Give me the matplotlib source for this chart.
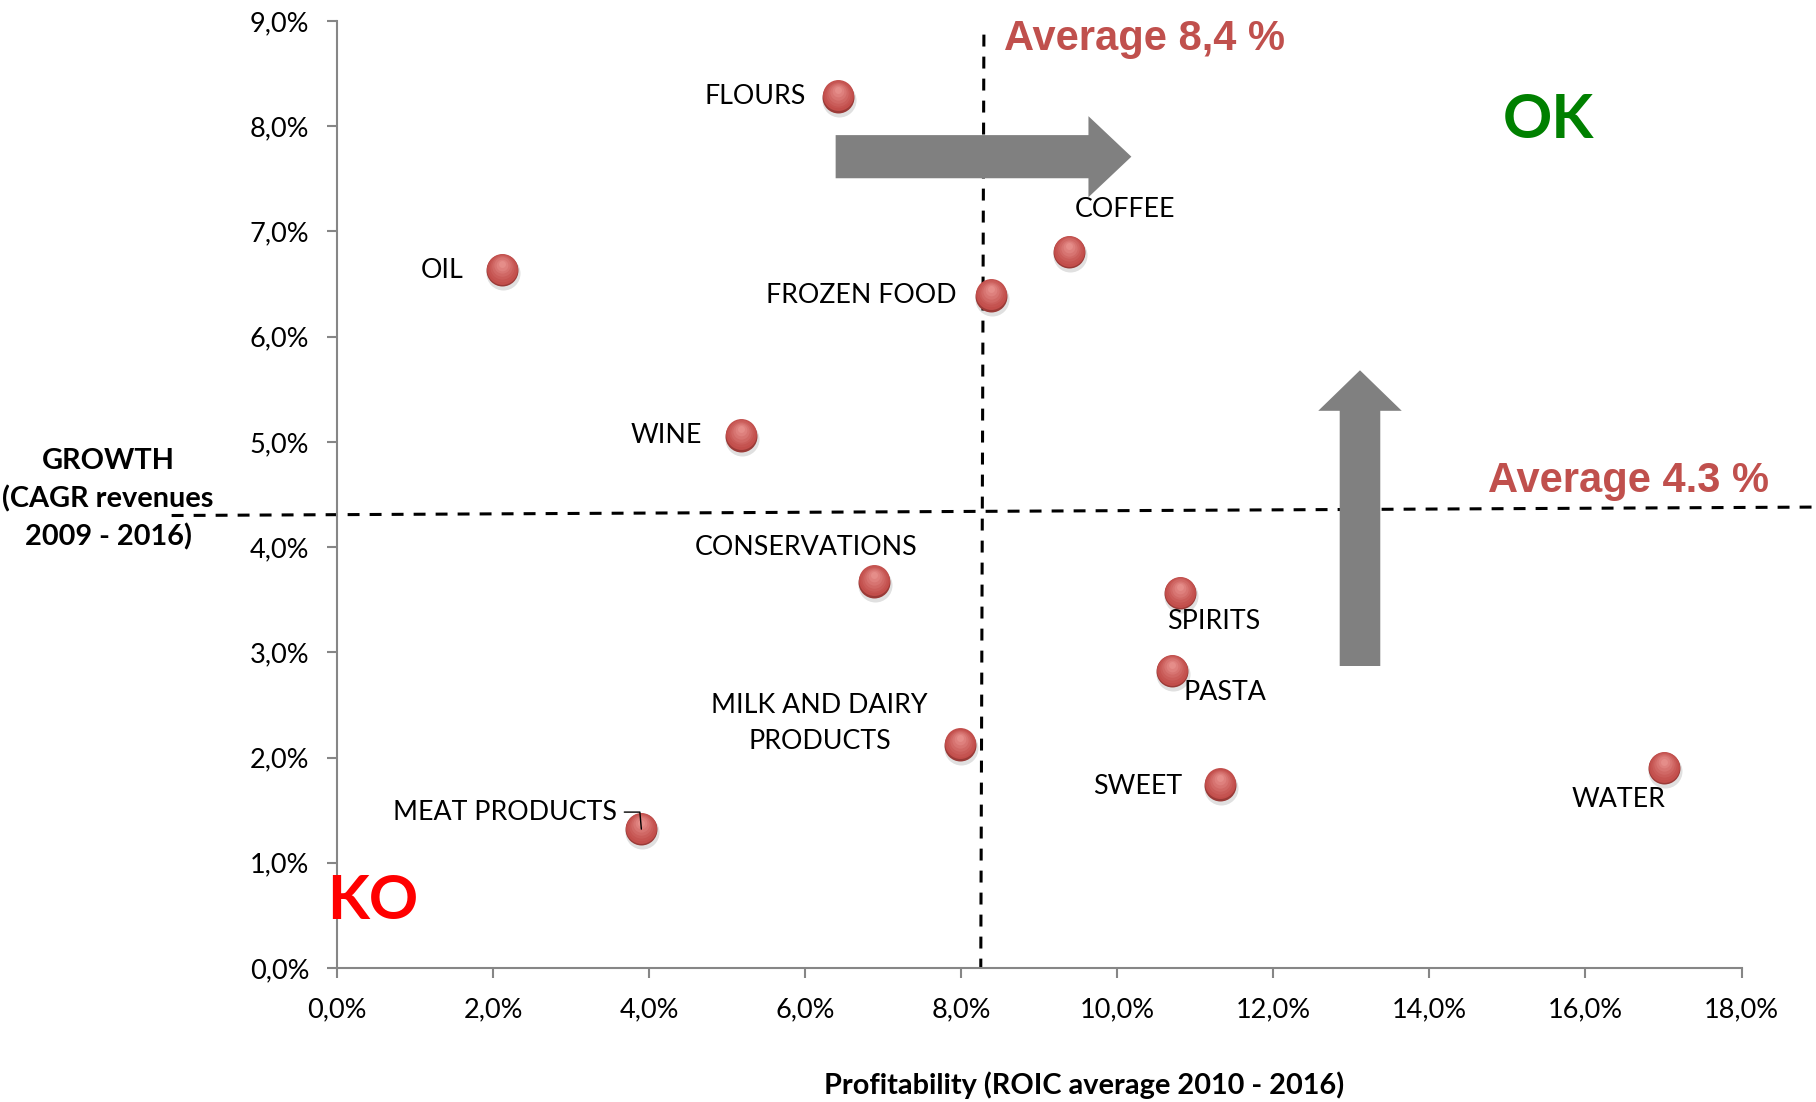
import numpy as np
import matplotlib
matplotlib.use('Agg')
import matplotlib.pyplot as plt
from matplotlib.patches import FancyArrow
from matplotlib.ticker import FuncFormatter
from matplotlib.colors import to_rgb
import matplotlib.transforms as mtransforms

# Data (percent values)
names = ['FLOURS', 'OIL', 'COFFEE', 'FROZEN FOOD', 'WINE', 'CONSERVATIONS',
         'SPIRITS', 'PASTA', 'MILK AND DAIRY\nPRODUCTS', 'SWEET', 'WATER',
         'MEAT PRODUCTS']
roic = [6.42, 2.11, 9.38, 8.38, 5.18, 6.88, 10.80, 10.70, 7.98, 11.32, 17.00, 3.90]
cagr = [8.28, 6.63, 6.80, 6.39, 5.06, 3.67, 3.56, 2.82, 2.12, 1.74, 1.90, 1.32]

avg_roic = 8.28
avg_cagr = 4.32

x_ticks = np.arange(0, 18.1, 2)
y_ticks = np.arange(0, 9.1, 1)

# label placement (pixel offsets, alignment)
label_pos = {
    'FLOURS': (-32, 0, 'right'),
    'OIL': (-38, 0, 'right'),
    'COFFEE': (56, 43, 'center'),
    'FROZEN FOOD': (-34, 0, 'right'),
    'WINE': (-39, 0, 'right'),
    'CONSERVATIONS': (-68, 34, 'center'),
    'SPIRITS': (34, -28, 'center'),
    'PASTA': (53, -21, 'center'),
    'MILK AND DAIRY\nPRODUCTS': (-140, 21, 'center'),
    'SWEET': (-38, -2, 'right'),
    'WATER': (-45, -31, 'center'),
    'MEAT PRODUCTS': (-24, 17, 'right'),
}

plt.rcParams['font.family'] = ['Lato', 'DejaVu Sans']

fig = plt.figure(figsize=(18.16, 11.02), dpi=100)
ax = fig.add_axes([0.1856, 0.1216, 0.959 - 0.1856, 0.981 - 0.1216])

ax.set_xlim(0, 18)
ax.set_ylim(0, 9)
ax.set_xticks(x_ticks)
ax.set_yticks(y_ticks)
pct = FuncFormatter(lambda v, p: ('%.1f%%' % v).replace('.', ','))
ax.xaxis.set_major_formatter(pct)
ax.yaxis.set_major_formatter(pct)

for s in ['top', 'right']:
    ax.spines[s].set_visible(False)
for s in ['left', 'bottom']:
    ax.spines[s].set_color('#868686')
    ax.spines[s].set_linewidth(1.5)
ax.tick_params(axis='both', direction='out', length=7, width=1.5,
               color='#868686', labelsize=19.5, labelcolor='black')
ax.tick_params(axis='x', pad=14)
ax.tick_params(axis='y', pad=13)

# average lines
dash = (0, (3.9, 3.3))
ax.plot([avg_roic + 0.01, avg_roic - 0.03], [8.87, 0], color='black', lw=2.2,
        ls=dash, clip_on=False, zorder=2)
ax.plot([-2.12, 18.9], [avg_cagr - 0.02, avg_cagr + 0.06], color='black', lw=2.2,
        ls=dash, clip_on=False, zorder=2)

# arrows
ax.add_patch(FancyArrow(6.39, 7.71, 3.79, 0, width=0.41, head_width=0.77,
                        head_length=0.55, length_includes_head=True,
                        color='#808080', lw=0, zorder=3))
ax.add_patch(FancyArrow(13.11, 2.87, 0, 2.81, width=0.52, head_width=1.07,
                        head_length=0.385, length_includes_head=True,
                        color='#808080', lw=0, zorder=3))

# sphere-like markers: soft shadow, dark rim, then lighter layers shifted up
shadow = mtransforms.offset_copy(ax.transData, fig=fig, x=1, y=-3, units='dots')
ax.scatter(roic, cagr, s=600, color='#000000', alpha=0.12, lw=0,
           transform=shadow, zorder=4, clip_on=False)
ax.scatter(roic, cagr, s=530, color='#9A3A37', lw=0, zorder=4, clip_on=False)
c0 = np.array(to_rgb('#C24E4B'))
c1 = np.array(to_rgb('#EC9A96'))
n_layers = 7
for i in range(n_layers):
    t = i / (n_layers - 1)
    size = 470 * (1 - t) ** 1.3 + 25
    off = mtransforms.offset_copy(ax.transData, fig=fig, x=0, y=1.5 + 5 * t,
                                  units='dots')
    ax.scatter(roic, cagr, s=size, color=c0 * (1 - t) + c1 * t, lw=0,
               alpha=1.0 if i == 0 else 0.5, transform=off, zorder=4,
               clip_on=False)

for n, x, y in zip(names, roic, cagr):
    dx, dy, ha = label_pos[n]
    if n == 'MEAT PRODUCTS':
        ax.annotate(n, (x, y), xytext=(dx, dy), textcoords='offset pixels',
                    ha=ha, va='center', fontsize=19.3,
                    arrowprops=dict(arrowstyle='-', color='black', lw=1,
                                    shrinkA=3, shrinkB=0,
                                    connectionstyle='angle,angleA=0,angleB=95,rad=0'),
                    zorder=6)
    else:
        ax.annotate(n, (x, y), xytext=(dx, dy), textcoords='offset pixels',
                    ha=ha, va='center', fontsize=19.3, linespacing=1.55,
                    multialignment='center', zorder=6)

# annotations
red = '#C0504D'
ax.text(8.55, 8.83, 'Average 8,4 %', color=red, fontsize=30, fontweight='bold',
        family='Liberation Sans', ha='left', va='center')
ax.text(18.35, 4.63, 'Average 4.3 %', color=red, fontsize=30, fontweight='bold',
        family='Liberation Sans', ha='right', va='center')
ax.text(15.52, 8.06, 'OK', color='#008000', fontsize=44, fontweight='bold',
        ha='center', va='center')
ax.text(-0.13, 0.64, 'KO', color='#FF0000', fontsize=44, fontweight='bold',
        ha='left', va='center')

fig.text(0.597, 0.0155, 'Profitability (ROIC average 2010 - 2016)',
         fontsize=20.8, fontweight='bold', ha='center', va='center')
fig.text(0.0595, 0.547, 'GROWTH\n(CAGR revenues\n2009 - 2016)',
         fontsize=20.8, fontweight='bold', ha='center', va='center',
         linespacing=1.5)

fig.savefig('out.png', dpi=100)
